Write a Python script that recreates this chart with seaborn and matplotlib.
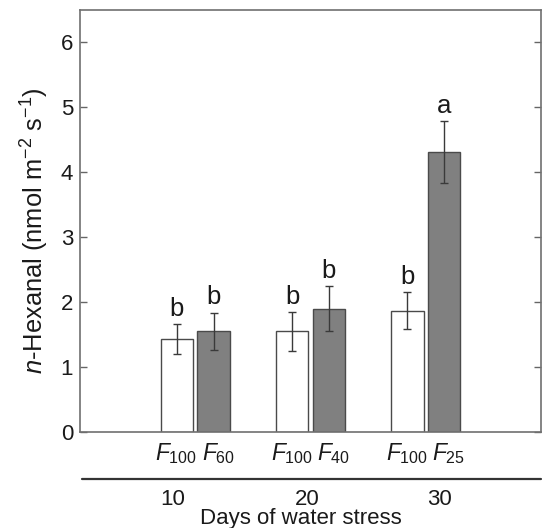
import matplotlib
matplotlib.use("Agg")
import matplotlib.pyplot as plt
import seaborn as sns
import pandas as pd
import numpy as np
from matplotlib.lines import Line2D
import matplotlib.transforms as mtransforms

# ---- data ----
days = ["10", "20", "30"]
treatments = ["F100", "Fstress"]
stress_labels = ["$F_{60}$", "$F_{40}$", "$F_{25}$"]
control_label = "$F_{100}$"
control_values = [1.43, 1.55, 1.87]
control_errors = [0.23, 0.30, 0.28]
stress_values = [1.55, 1.90, 4.31]
stress_errors = [0.29, 0.35, 0.48]
control_letters = ["b", "b", "b"]
stress_letters = ["b", "b", "a"]
yticks = [0, 1, 2, 3, 4, 5, 6]

df = pd.DataFrame({
    "day": days * 2,
    "treatment": ["F100"] * 3 + ["Fstress"] * 3,
    "value": control_values + stress_values,
    "err": control_errors + stress_errors,
    "letter": control_letters + stress_letters,
    "xlabel": [control_label] * 3 + stress_labels,
})

sns.set_theme(style="white")
plt.rcParams["font.family"] = ["Liberation Sans", "DejaVu Sans"]
plt.rcParams["mathtext.fontset"] = "custom"
plt.rcParams["mathtext.rm"] = "Liberation Sans"
plt.rcParams["mathtext.it"] = "Liberation Sans:italic"
plt.rcParams["mathtext.bf"] = "Liberation Sans:bold"

fig = plt.figure(figsize=(5.42, 5.28), dpi=100)
ax = fig.add_axes([80 / 542, 1 - 432 / 528, 461 / 542, 422 / 528])

sns.barplot(data=df, x="day", y="value", hue="treatment", order=days,
            hue_order=treatments, palette={"F100": "white", "Fstress": "#808080"},
            width=0.635, gap=0.11, errorbar=None, legend=False, ax=ax,
            edgecolor="#4a4a4a", linewidth=1.0)

# map patches to data rows
patches = [p for p in ax.patches if p.get_height() > 0]
patches = sorted(patches, key=lambda p: p.get_x())
rows = []
for i in range(3):
    rows.append(df[(df.day == days[i]) & (df.treatment == "F100")].iloc[0])
    rows.append(df[(df.day == days[i]) & (df.treatment == "Fstress")].iloc[0])

trans_x = mtransforms.blended_transform_factory(ax.transData, ax.transAxes)
for k, (p, r) in enumerate(zip(patches, rows)):
    cx = p.get_x() + p.get_width() / 2
    h = p.get_height()
    ax.errorbar(cx, h, yerr=r["err"], fmt="none", ecolor="#3a3a3a",
                elinewidth=1.0, capsize=3, capthick=1.0, zorder=5)
    ax.annotate(r["letter"], (cx, h + r["err"]), xytext=(0, 6),
                textcoords="offset points", ha="center", va="baseline",
                fontsize=18.5, color="#1a1a1a")

# treatment labels under bars, anchored at the gap between paired bars
for i in range(3):
    pl, pr = patches[2 * i], patches[2 * i + 1]
    gap_x = (pl.get_x() + pl.get_width() + pr.get_x()) / 2
    ax.annotate(rows[2 * i]["xlabel"], (gap_x, -0.022), xycoords=trans_x,
                xytext=(1.5, 0), textcoords="offset points", ha="right",
                va="top", fontsize=16.5, color="#1a1a1a")
    ax.annotate(rows[2 * i + 1]["xlabel"], (gap_x, -0.022), xycoords=trans_x,
                xytext=(4.5, 0), textcoords="offset points", ha="left",
                va="top", fontsize=16.5, color="#1a1a1a")

ax.set_xlim(-1, 3)
ax.set_ylim(0, 6.5)
ax.set_yticks(yticks)
ax.set_yticklabels([str(t) for t in yticks], fontsize=16, color="#1a1a1a")
ax.set_xticks([])
ax.set_xlabel("")
ax.set_ylabel("")
ax.tick_params(axis="y", direction="in", length=5, width=1, color="#666666",
               left=True, right=True, pad=5)
for s in ax.spines.values():
    s.set_color("#707070")
    s.set_linewidth(1.2)

# separator line and day labels
ax.add_line(Line2D([0.005, 1.0], [-0.111, -0.111], transform=ax.transAxes,
                   color="#333333", lw=1.6, clip_on=False))
day_offsets = [-0.2, -0.03, 0.12]
for i, d in enumerate(days):
    ax.text(i + day_offsets[i], -0.159, d, transform=trans_x, ha="center",
            va="center", fontsize=16, color="#1a1a1a")
ax.text(0.92, -0.204, "Days of water stress", transform=trans_x, ha="center",
        va="center", fontsize=16, color="#1a1a1a")

fig.text(35 / 542, 1 - 231 / 528, r"$n$-Hexanal (nmol m$^{-2}$ s$^{-1}$)",
         rotation=90, ha="center", va="center", fontsize=18.4, color="#1a1a1a")

fig.savefig("out.png", dpi=100)
